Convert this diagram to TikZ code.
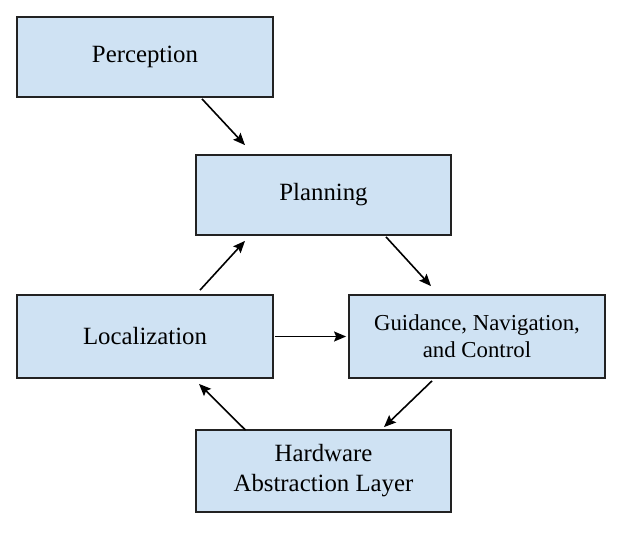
\documentclass[tikz,border=0pt]{standalone}
\usepackage{fontspec}
\setmainfont{Liberation Serif}
\usepackage{tikz}
\usetikzlibrary{arrows.meta}
\usetikzlibrary{calc}
\usetikzlibrary{positioning}
\definecolor{boxblue}{HTML}{CFE2F3}
\definecolor{boxline}{HTML}{222222}

\begin{document}
\begin{tikzpicture}[x=1pt,y=-1pt]
	\useasboundingbox (0,0) rectangle (627,536);
	\begin{scope}[every node/.style={rectangle, draw=boxline, line width=1.8pt, fill=boxblue,
	              inner sep=0pt, align=center, font=\fontsize{24.8}{30}\selectfont}]
	    	\node[minimum width=256pt, minimum height=80pt] (1) at (145,57) {Perception};
		\node[minimum width=255pt, minimum height=80pt] (2) at (323.5,195) {Planning};
	    	\node[minimum width=256pt, minimum height=83pt] (3) at (145,336.5) {Localization};
		\node[minimum width=256pt, minimum height=83pt, font=\fontsize{22.8}{27}\selectfont] (4) at (477,336.5) {Guidance, Navigation,\\and Control};
	    	\node[minimum width=255pt, minimum height=82pt] (5) at (323.5,471) {Hardware\\Abstraction Layer};
	\end{scope}
	
	\begin{scope}[>={Stealth[length=12pt, width=10pt, inset=2pt]},
	              every edge/.style={draw=black, line width=1.6pt}]
		\path ($(1.south)+(57,1)$) edge[->] ($(2.north)+(-78.5,-9)$);
		\path ($(2.south)+(62.5,1)$) edge[->] ($(4.north)+(-46,-8)$);
		\path ($(4.south)+(-45,2)$) edge[->] ($(5.north)+(60.5,-2)$);
		\path ($(5.north)+(-78,1)$) edge[->] ($(3.south)+(54,5)$);
		\path ($(3.north)+(55,-4)$) edge[->] ($(2.south)+(-78.5,5)$);
		\path ($(3.east)+(1,0)$) edge[->] ($(4.west)+(-2,0)$);
	\end{scope}
\end{tikzpicture}
\end{document}
